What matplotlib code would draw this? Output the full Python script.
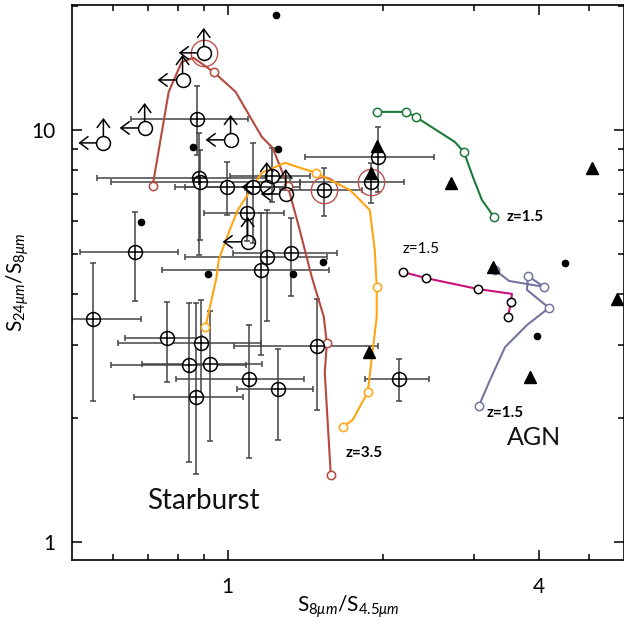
import numpy as np
import matplotlib
matplotlib.use("Agg")
import matplotlib.pyplot as plt
from matplotlib.ticker import FixedLocator, NullFormatter, FixedFormatter

# detections with error bars (x, y, x range, y range)
detX = [0.871, 0.879, 0.883, 0.996, 1.118, 1.217, 1.088, 1.534, 1.891, 1.951,
        0.661, 0.548, 0.762, 0.887, 0.840, 0.923, 0.867, 1.098, 1.250, 1.487,
        2.143, 1.324, 1.190, 1.158]
detY = [10.63, 7.65, 7.48, 7.27, 7.27, 7.73, 6.29, 7.15, 7.48, 8.60,
        5.06, 3.48, 3.13, 3.04, 2.69, 2.70, 2.25, 2.49, 2.35, 2.99,
        2.49, 5.03, 4.92, 4.57]
detXlo = [0.649, 0.558, 0.594, 0.790, 0.826, 1.009, 0.899, 1.261, 1.378, 1.409,
          0.519, 0.499, 0.632, 0.615, 0.594, 0.682, 0.658, 0.793, 1.041, 1.027,
          1.841, 1.023, 0.826, 0.748]
detXhi = [1.093, 1.318, 1.378, 1.378, 1.318, 1.441, 1.284, 1.817, 2.191, 2.504,
          0.800, 0.679, 0.891, 1.158, 1.083, 1.164, 1.069, 1.403, 1.461, 1.951,
          2.449, 1.626, 1.555, 1.569]
detYlo = [8.70, 4.97, 5.41, 6.22, 5.32, 6.69, 5.38, 6.18, 6.65, 7.07,
          3.85, 2.20, 2.45, 2.22, 1.56, 1.76, 1.46, 1.60, 1.77, 2.09,
          2.20, 3.95, 3.44, 2.84]
detYhi = [12.79, 9.83, 8.94, 8.37, 9.30, 9.04, 7.15, 8.09, 8.32, 10.17,
          6.32, 4.76, 3.82, 3.87, 3.80, 3.64, 3.80, 3.36, 2.94, 3.89,
          2.78, 6.12, 6.39, 6.29]

# limits (upper in x, lower in y)
limX = [0.899, 0.818, 0.691, 0.575, 1.013, 1.295, 1.093, 1.190]
limY = [15.38, 13.22, 10.11, 9.30, 9.46, 6.99, 5.35, 7.27]

# highlighted sources
ringX = [0.899, 1.534, 1.891]
ringY = [15.38, 7.15, 7.48]

# other sources
dotX = [1.239, 0.856, 1.250, 0.679, 0.915, 1.336, 1.528, 4.490, 3.963]
dotY = [19.02, 9.09, 8.99, 5.98, 4.47, 4.47, 4.78, 4.76, 3.16]
triX = [1.942, 1.891, 2.702, 5.066, 3.258, 5.662, 3.842, 1.874]
triY = [9.15, 7.87, 7.44, 8.09, 4.65, 3.89, 2.52, 2.89]

# template tracks
redX = [0.716, 0.769, 0.815, 0.859, 0.939, 1.036, 1.164, 1.222, 1.307, 1.378, 1.454, 1.534, 1.555, 1.541, 1.583]
redY = [7.31, 12.37, 14.62, 14.96, 13.83, 12.37, 9.62, 9.04, 7.31, 5.72, 4.40, 3.52, 3.04, 2.57, 1.45]
redM = [0, 4, 8, 12, 14]
orX = [0.906, 0.952, 0.961, 1.009, 1.046, 1.164, 1.290, 1.480, 1.723, 1.883, 1.925, 1.942, 1.942, 1.866, 1.746, 1.670]
orY = [3.33, 4.40, 4.84, 5.72, 6.39, 7.87, 8.32, 7.87, 7.15, 6.39, 5.11, 4.16, 3.52, 2.31, 1.98, 1.90]
orM = [0, 7, 11, 13, 15]
grX = [1.942, 2.211, 2.312, 2.750, 2.863, 2.980, 3.102, 3.273]
grY = [11.06, 11.06, 10.75, 9.35, 8.84, 7.69, 6.76, 6.15]
grM = [0, 1, 2, 4, 7]
mgX = [2.181, 2.417, 3.047, 3.546, 3.530, 3.483]
mgY = [4.52, 4.37, 4.11, 4.00, 3.82, 3.52]
mgM = [0, 1, 2, 4, 5]
slX = [3.288, 3.500, 4.090, 3.808, 3.791, 4.182, 3.791, 3.438, 3.215, 3.061]
slY = [4.57, 4.30, 4.16, 4.42, 4.09, 3.70, 3.36, 2.97, 2.47, 2.14]
slM = [0, 2, 3, 5, 9]

plt.rcParams['font.family'] = ['Lato', 'DejaVu Sans']
plt.rcParams['mathtext.fontset'] = 'custom'
plt.rcParams['mathtext.rm'] = 'Lato'
plt.rcParams['mathtext.it'] = 'Lato:italic'

fig = plt.figure(figsize=(6.24, 6.25), dpi=100)
ax = fig.add_axes([72/624, 65/625, 552/624, 555/625])
ax.set_xscale("log")
ax.set_yscale("log")
ax.set_xlim(0.5, 5.84)
ax.set_ylim(0.904, 20.1)

x = np.array(detX); y = np.array(detY)
xerr = [x - np.array(detXlo), np.array(detXhi) - x]
yerr = [y - np.array(detYlo), np.array(detYhi) - y]
ax.errorbar(x, y, xerr=xerr, yerr=yerr, fmt='none', ecolor='#444444', elinewidth=1.1, capsize=2.5, capthick=1.1, zorder=2)
ax.plot(x, y, 'o', mfc='white', mec='black', ms=10, mew=1.1, zorder=4)
ax.plot(x, y, '+', color='black', ms=10, mew=1.1, zorder=5)

ax.plot(limX, limY, 'o', mfc='none', mec='black', ms=10, mew=1.1, zorder=4)
for lx, ly in zip(limX, limY):
    for off in [(-18, 0), (0, 18)]:
        ax.annotate('', xy=(lx, ly), xytext=off, textcoords='offset points',
                    arrowprops=dict(arrowstyle='<-,head_length=0.6,head_width=0.45', color='black',
                                    lw=1.1, shrinkA=0, shrinkB=5), zorder=4)

ax.plot(ringX, ringY, 'o', mfc='none', mec='#c0504d', ms=19, mew=1.0, zorder=3)
ax.plot(dotX, dotY, 'o', color='black', ms=4.5, zorder=4)
ax.plot(triX, triY, '^', color='black', ms=8, zorder=4)

tracks = [(redX, redY, redM, '#b5493e', '#b5493e'),
          (orX, orY, orM, '#ffa514', '#ffa514'),
          (grX, grY, grM, '#1c7a3a', '#1c7a3a'),
          (mgX, mgY, mgM, '#c8107a', 'black'),
          (slX, slY, slM, '#7474a0', '#7474a0')]
for tx, ty, tm, lc, mc in tracks:
    ax.plot(tx, ty, '-', color=lc, lw=1.5, zorder=3)
    ax.plot([tx[i] for i in tm], [ty[i] for i in tm], 'o', mfc='white', mec=mc, ms=6, mew=1.1, zorder=3)

ax.text(3.47, 6.15, 'z=1.5', fontsize=11, fontweight='bold', va='center')
ax.text(2.18, 5.14, 'z=1.5', fontsize=11, va='center')
ax.text(1.69, 1.64, 'z=3.5', fontsize=11, fontweight='bold', va='center')
ax.text(3.17, 2.06, 'z=1.5', fontsize=11, fontweight='bold', va='center')
ax.text(0.70, 1.26, 'Starburst', fontsize=20, color='#111111', va='center')
ax.text(3.47, 1.79, 'AGN', fontsize=18, color='#111111', va='center')

ax.xaxis.set_major_locator(FixedLocator([1, 4]))
ax.xaxis.set_major_formatter(FixedFormatter(['1', '4']))
ax.xaxis.set_minor_locator(FixedLocator([0.6, 0.7, 0.8, 0.9, 2, 3, 5]))
ax.xaxis.set_minor_formatter(NullFormatter())
ax.yaxis.set_major_locator(FixedLocator([1, 10]))
ax.yaxis.set_major_formatter(FixedFormatter(['1', '10']))
ax.yaxis.set_minor_locator(FixedLocator([2, 3, 4, 5, 6, 7, 8, 9, 20]))
ax.yaxis.set_minor_formatter(NullFormatter())
ax.tick_params(which='both', direction='in', top=True, right=True, labelsize=15, width=1.1)
ax.tick_params(which='major', length=7, pad=12)
ax.tick_params(which='minor', length=4)
for s in ax.spines.values():
    s.set_linewidth(1.2)

ax.set_xlabel(r'S$_{8\mu m}$/S$_{4.5\mu m}$', fontsize=15, labelpad=-2)
ax.set_ylabel(r'S$_{24\mu m}$/S$_{8\mu m}$', fontsize=15, labelpad=0)

plt.savefig("out.png", dpi=100)
